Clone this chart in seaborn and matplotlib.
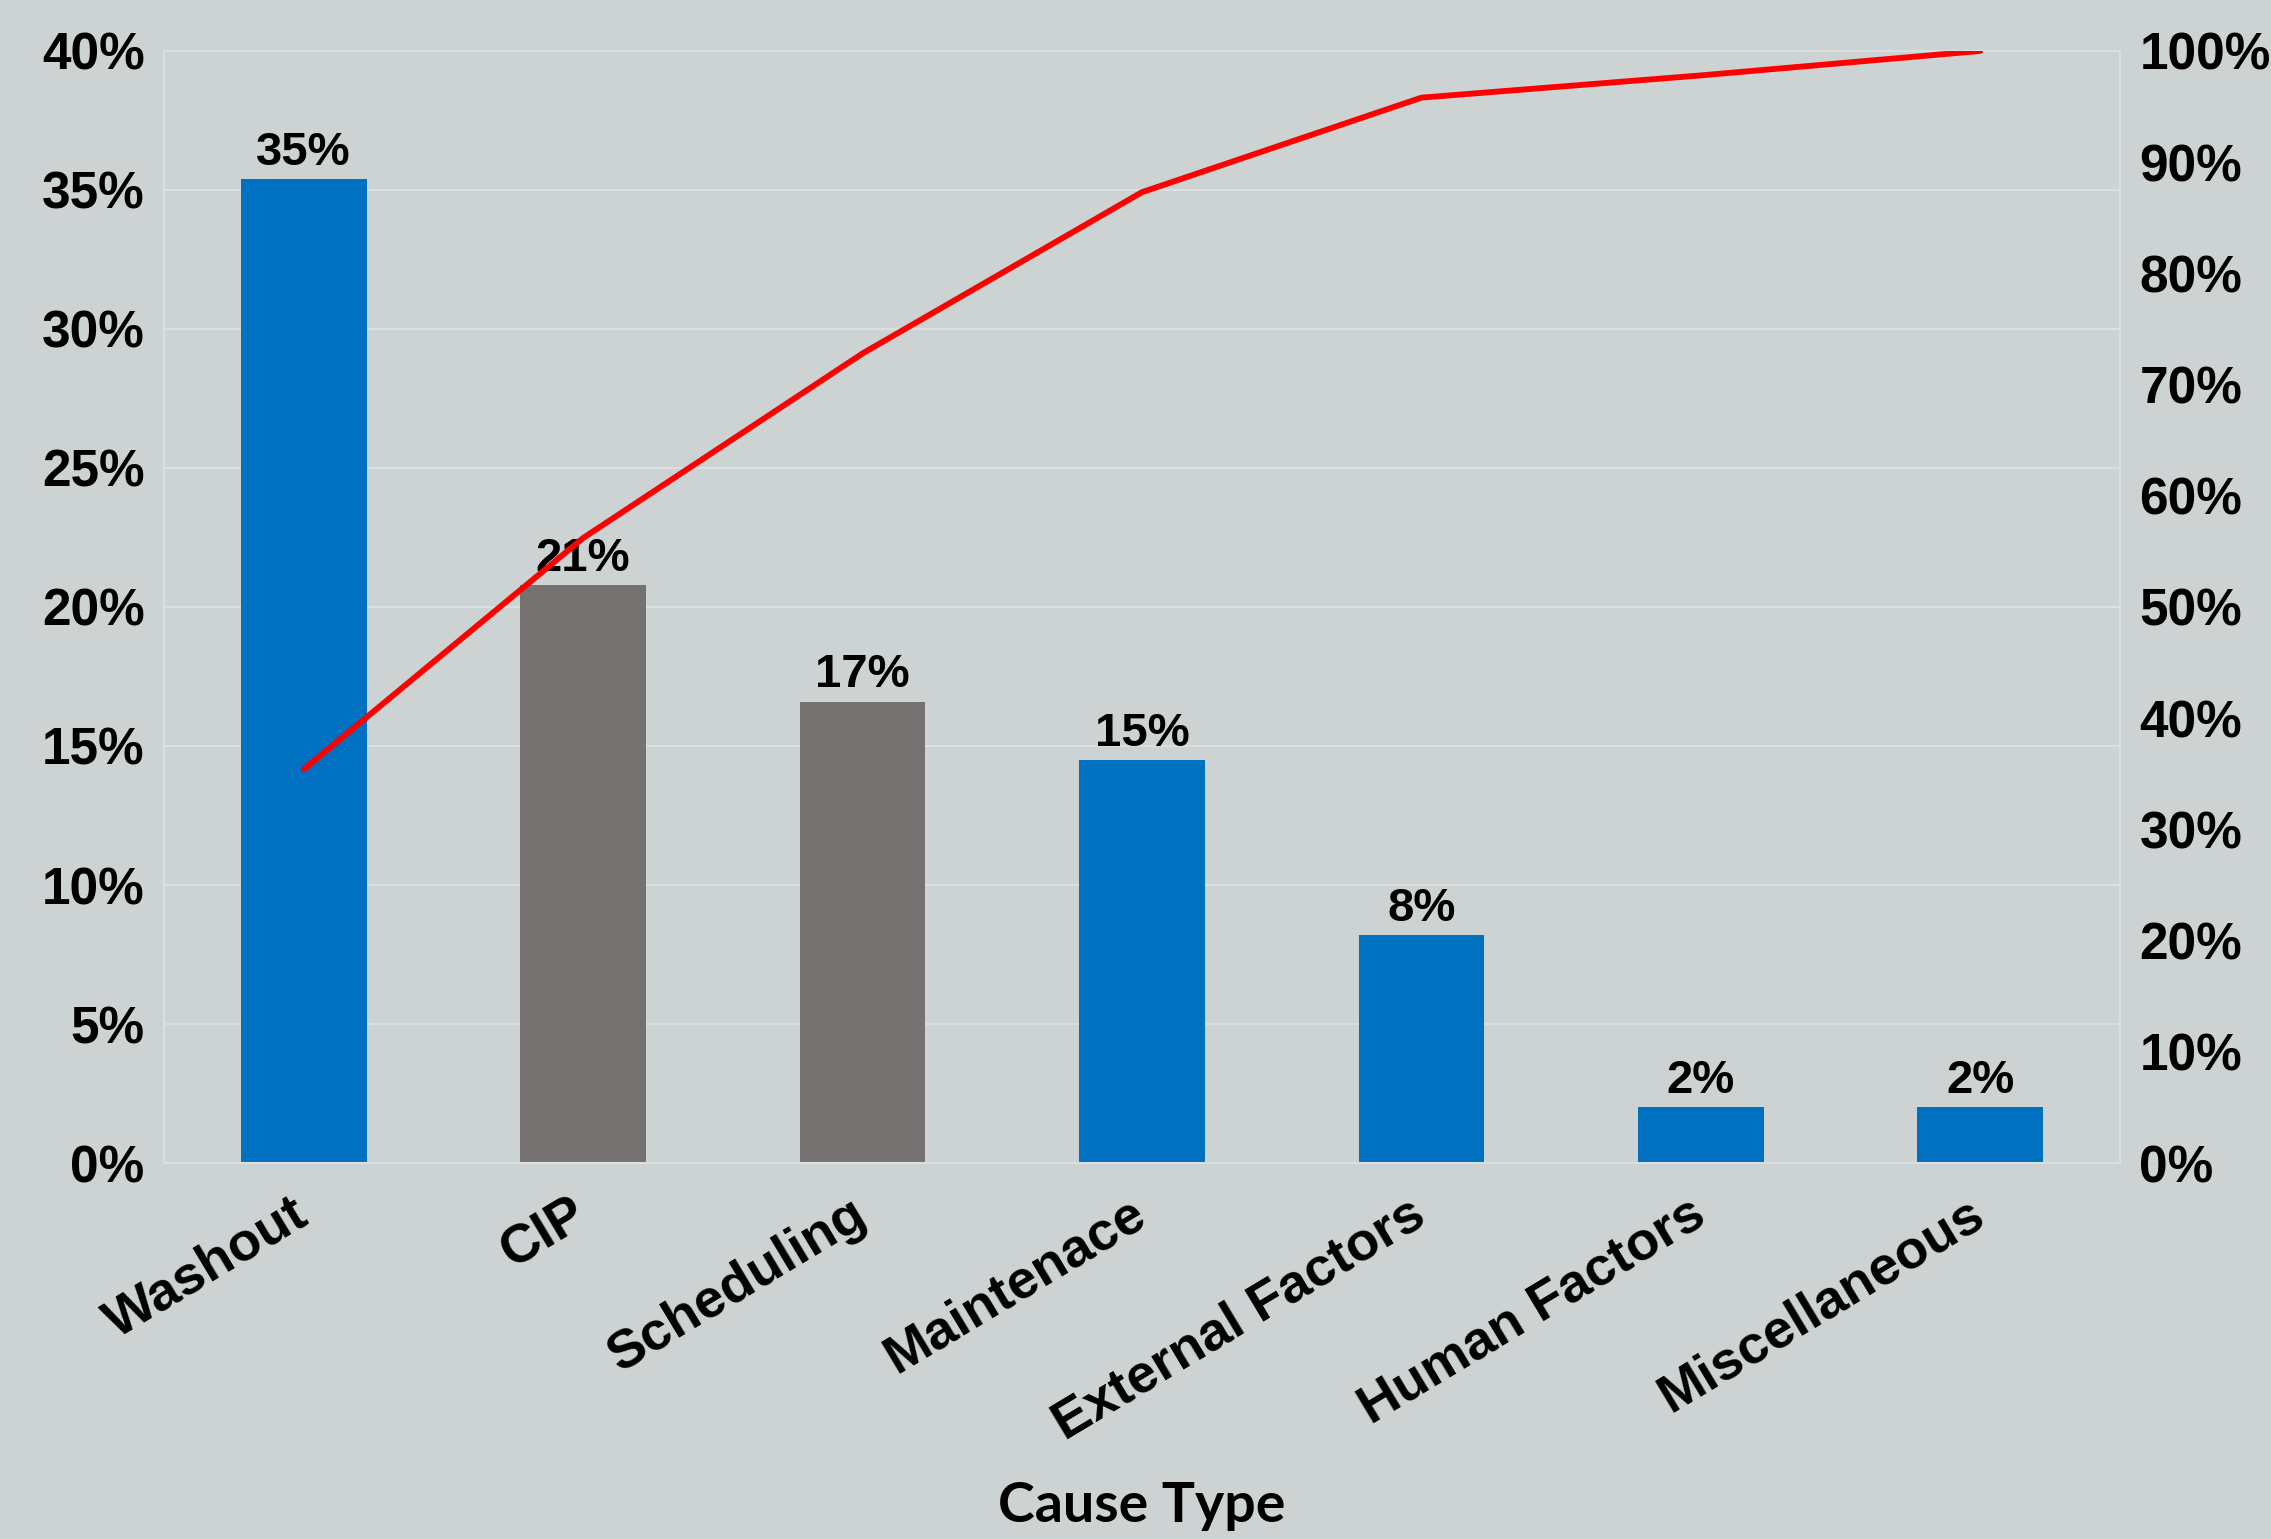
import numpy as np
import matplotlib
matplotlib.use("Agg")
import matplotlib.pyplot as plt
from matplotlib.ticker import FuncFormatter, MultipleLocator
import seaborn as sns

# ---- data ----
categories = ["Washout", "CIP", "Scheduling", "Maintenace",
              "External Factors", "Human Factors", "Miscellaneous"]
share_pct = [35.4, 20.8, 16.6, 14.5, 8.2, 2.0, 2.0]
bar_labels = ["35%", "21%", "17%", "15%", "8%", "2%", "2%"]
cumulative_pct = [35.4, 56.2, 72.8, 87.3, 95.8, 97.8, 100.0]
bar_colors = ["#0070C0", "#767171", "#767171", "#0070C0",
              "#0070C0", "#0070C0", "#0070C0"]
x_title = "Cause Type"

BG = "#CDD3D3"
GRID = "#DADFDF"

sns.set_theme(style="white")
plt.rcParams["font.family"] = ["Liberation Sans", "DejaVu Sans"]
plt.rcParams["text.color"] = "black"
plt.rcParams["axes.labelcolor"] = "black"
plt.rcParams["xtick.color"] = "black"
plt.rcParams["ytick.color"] = "black"

fig = plt.figure(figsize=(22.71, 15.39), dpi=100, facecolor=BG)
ax = fig.add_axes([0.0722, 0.2443, 0.8613, 0.7226])
ax.set_facecolor(BG)

sns.barplot(x=categories, y=share_pct, hue=categories, palette=bar_colors,
            legend=False, width=0.45, saturation=1.0, ax=ax, zorder=2,
            edgecolor="none", linewidth=0)

for i, c in enumerate(ax.containers):
    ax.bar_label(c, labels=[bar_labels[i]], padding=3, fontsize=34,
                 fontweight="bold", color="black")

ax.set_xlim(-0.5, len(categories) - 0.5)
ax.set_ylim(0, 40)
ax.yaxis.set_major_locator(MultipleLocator(5))
ax.yaxis.set_major_formatter(FuncFormatter(lambda v, p: f"{v:.0f}%"))
ax.grid(axis="y", color=GRID, linewidth=1.5, zorder=0)
ax.set_axisbelow(True)
ax.tick_params(axis="y", length=0, pad=14, labelsize=37, colors="black")
ax.tick_params(axis="x", length=0, pad=34, labelsize=39, colors="black")
for lbl in ax.get_yticklabels():
    lbl.set_fontweight("bold")
ax.set_xticks(range(len(categories)))
ax.set_xticklabels(categories, rotation=31, ha="right", va="center",
                   rotation_mode="anchor", fontweight="bold", color="black")
ax.set_xlabel(x_title, fontsize=40, fontweight="bold", color="black",
              family=["Lato", "DejaVu Sans"], va="center")
ax.xaxis.set_label_coords(0.5, -0.3085)
ax.set_ylabel("")
for s in ax.spines.values():
    s.set_color(GRID)
    s.set_linewidth(1.5)

ax2 = ax.twinx()
sns.lineplot(x=np.arange(len(categories)), y=cumulative_pct, ax=ax2,
             color="#FF0000", linewidth=4.2, solid_capstyle="round")
ax2.set_xlim(-0.5, len(categories) - 0.5)
ax2.set_ylim(0, 100)
ax2.yaxis.set_major_locator(MultipleLocator(10))
ax2.yaxis.set_major_formatter(FuncFormatter(lambda v, p: f"{v:.0f}%"))
ax2.tick_params(axis="y", length=0, pad=14, labelsize=37, colors="black")
for lbl in ax2.get_yticklabels():
    lbl.set_fontweight("bold")
ax2.set_ylabel("")
ax2.grid(False)
for s in ax2.spines.values():
    s.set_visible(False)

fig.savefig("out.png", dpi=100, facecolor=BG)
